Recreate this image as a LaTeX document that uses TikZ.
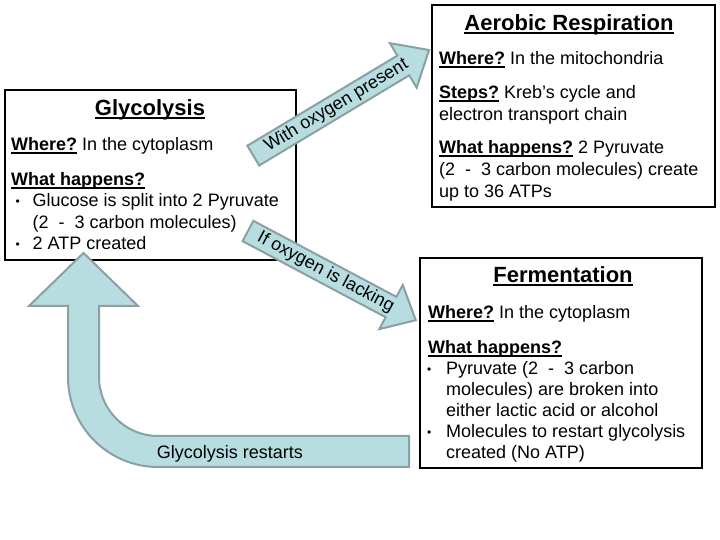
\documentclass[tikz,border=0pt]{standalone}
\usepackage{fontspec}
\setmainfont{Liberation Sans}
\definecolor{arrowfill}{RGB}{183,221,225}
\definecolor{arrowline}{RGB}{138,160,164}
\newcommand\ulb[1]{\setbox0=\hbox{#1}\rlap{\rule[-2.6pt]{\wd0}{1.5pt}}\box0\relax}
\newcommand\ult[1]{\setbox0=\hbox{#1}\rlap{\rule[-3.2pt]{\wd0}{1.9pt}}\box0\relax}
\newcommand\smallbul{\raisebox{1pt}{\fontsize{12}{12}\selectfont •}}
\begin{document}
\begin{tikzpicture}[x=1pt,y=1pt,
  body/.style={inner sep=0pt, anchor=base west, font=\fontsize{18}{21.5}\selectfont},
  titletext/.style={inner sep=0pt, anchor=base, font=\fontsize{22}{26}\selectfont\bfseries},
  box/.style={draw=black, line width=2.5pt},
  blockarrow/.style={fill=arrowfill, draw=arrowline, line width=2pt, line join=miter},
  arrowtext/.style={inner sep=0pt, font=\fontsize{18}{21.5}\selectfont}]
\useasboundingbox (0,0) rectangle (720,540);
\fill[white] (0,0) rectangle (720,540);

% Boxes
\draw[box] (5,450) rectangle (296,280);
\draw[box] (432,535) rectangle (715,333);
\draw[box] (420,282) rectangle (702,72);

% Glycolysis
\node[titletext] (gtitle) at (150,424) {\ult{Glycolysis}};
\node[body] (gwhere) at (11,389) {\ulb{\bfseries Where?} In the cytoplasm};
\node[body] (gwhat) at (11,354) {\ulb{\bfseries What happens?}};
\node[body] (gb1) at (15.5,333) {\smallbul};
\node[body] (gl1) at (32.5,333) {Glucose is split into 2 Pyruvate};
\node[body] (gl2) at (32.5,311.5) {(2\ \ -\ \ 3 carbon molecules)};
\node[body] (gb2) at (15.5,290) {\smallbul};
\node[body] (gl3) at (32.5,290) {2 ATP created};

% Aerobic respiration
\node[titletext] (atitle) at (569,509) {\ult{Aerobic Respiration}};
\node[body] (awhere) at (439,475) {\ulb{\bfseries Where?} In the mitochondria};
\node[body] (asteps) at (439,441) {\ulb{\bfseries Steps?} Kreb's cycle and};
\node[body] (asteps2) at (439,419) {electron transport chain};
\node[body] (awhat) at (439,386) {\ulb{\bfseries What happens?} 2 Pyruvate};
\node[body] (awhat2) at (439,364) {(2\ \ -\ \ 3 carbon molecules) create};
\node[body] (awhat3) at (439,342) {up to 36 ATPs};

% Fermentation
\node[titletext] (ftitle) at (563,257) {\ult{Fermentation}};
\node[body] (fwhere) at (428,221) {\ulb{\bfseries Where?} In the cytoplasm};
\node[body] (fwhat) at (428,186) {\ulb{\bfseries What happens?}};
\node[body] (fb1) at (427,165) {\smallbul};
\node[body] (fl1) at (446,165) {Pyruvate (2\ \ -\ \ 3 carbon};
\node[body] (fl2) at (446,144) {molecules) are broken into};
\node[body] (fl3) at (446,123) {either lactic acid or alcohol};
\node[body] (fb2) at (427,102) {\smallbul};
\node[body] (fl4) at (446,102) {Molecules to restart glycolysis};
\node[body] (fl5) at (446,81) {created (No ATP)};

% Arrow: with oxygen present
\begin{scope}[shift={(253.3,384.4)}, rotate=31]
  \coordinate (a1tail) at (0,0);
  \coordinate (a1tip) at (205,0);
  \draw[blockarrow] (0,-11.5) -- (175,-11.5) -- (175,-26) -- (a1tip) -- (175,26) -- (175,11.5) -- (0,11.5) -- cycle;
  \node[arrowtext, rotate=31] (a1text) at (97,0) {With oxygen present};
\end{scope}

% Arrow: if oxygen is lacking
\begin{scope}[shift={(248,309)}, rotate=-28]
  \coordinate (a2tail) at (0,0);
  \coordinate (a2tip) at (190,0);
  \draw[blockarrow] (0,-11.5) -- (162,-11.5) -- (162,-25) -- (a2tip) -- (162,25) -- (162,11.5) -- (0,11.5) -- cycle;
  \node[arrowtext, rotate=-28] (a2text) at (88,0) {If oxygen is lacking};
\end{scope}

% Bent arrow: glycolysis restarts
\coordinate (a3tip) at (83.5,287);
\draw[blockarrow] (a3tip) -- (138,234) -- (99,234) -- (99,163)
  arc[start angle=180, end angle=270, radius=59] -- (409,104) -- (409,73) -- (158,73)
  arc[start angle=270, end angle=180, radius=90] -- (68,234) -- (29,234) -- cycle;
\node[arrowtext, anchor=base] (a3text) at (230,81) {Glycolysis restarts};
\end{tikzpicture}
\end{document}
